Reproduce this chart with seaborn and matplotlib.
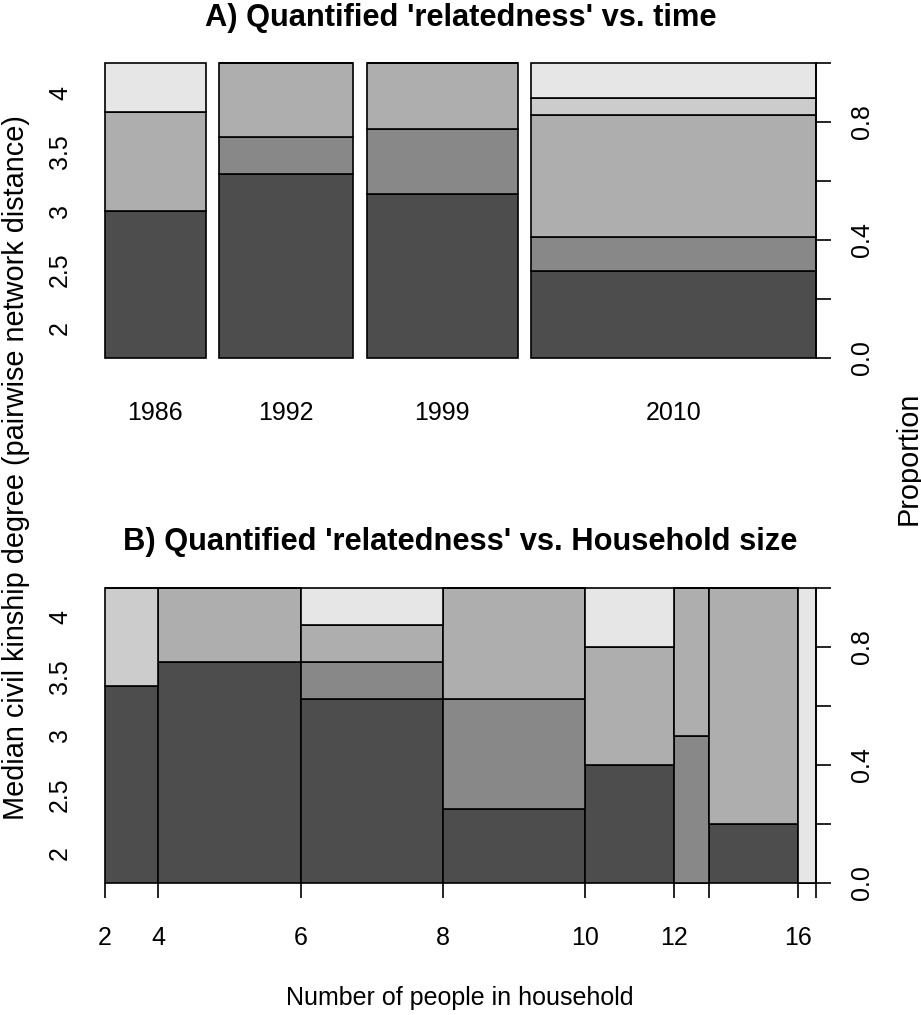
import numpy as np
import matplotlib
matplotlib.use("Agg")
import matplotlib.pyplot as plt
import seaborn as sns

# Kinship-degree levels (median pairwise network distance) and their fills
levels = ["2", "2.5", "3", "3.5", "4"]
level_colors = ["#4D4D4D", "#888888", "#AEAEAE", "#CCCCCC", "#E6E6E6"]

# Panel A: households per survey year, split by kinship level
years = ["1986", "1992", "1999", "2010"]
year_counts = {
    "2":   [3, 5, 5, 5],
    "2.5": [0, 1, 2, 2],
    "3":   [2, 2, 2, 7],
    "3.5": [0, 0, 0, 1],
    "4":   [1, 0, 0, 2],
}

# Panel B: households per household-size bin, split by kinship level
size_breaks = [2, 4, 6, 8, 10, 12, 14, 16, 18]
size_tick_labels = ["2", "4", "6", "8", "10", "12", "", "16", ""]
size_counts = {
    "2":   [2, 6, 5, 2, 2, 0, 1, 0],
    "2.5": [0, 0, 1, 3, 0, 1, 0, 0],
    "3":   [0, 2, 1, 3, 2, 1, 4, 0],
    "3.5": [1, 0, 0, 0, 0, 0, 0, 0],
    "4":   [0, 0, 1, 0, 1, 0, 0, 1],
}

proportion_ticks = [0.0, 0.2, 0.4, 0.6, 0.8, 1.0]
proportion_labels = ["0.0", "", "0.4", "", "0.8", ""]
level_label_pos = [0.1, 0.3, 0.5, 0.7, 0.9]

sns.set_theme(style="white")
plt.rcParams["font.family"] = ["Liberation Sans", "DejaVu Sans"]
plt.rcParams["text.color"] = "black"
plt.rcParams["xtick.color"] = "black"
plt.rcParams["ytick.color"] = "black"
plt.rcParams["axes.labelcolor"] = "black"

W, H = 921, 1015
DPI = 100
LW = 1.2
FS = 18
SIDE_FS = 20.8
TFS = 22.2

fig = plt.figure(figsize=(W / DPI, H / DPI), dpi=DPI)


def px_axes(left, top, right, bottom):
    return fig.add_axes([left / W, 1 - bottom / H, (right - left) / W, (bottom - top) / H])


def spineplot(ax, counts, gap):
    table = np.array([counts[lv] for lv in levels], dtype=float)
    totals = table.sum(axis=0)
    widths = totals / totals.sum()
    lefts = np.concatenate([[0.0], np.cumsum(widths + gap)[:-1]])
    props = table / totals
    bottoms = np.zeros(len(totals))
    for i, lv in enumerate(levels):
        ax.bar(lefts, props[i], width=widths, bottom=bottoms, align="edge",
               color=level_colors[i], edgecolor="black", linewidth=LW,
               clip_on=False, zorder=2)
        bottoms += props[i]
    ax.set_xlim(0, lefts[-1] + widths[-1])
    ax.set_ylim(0, 1)
    for s in ax.spines.values():
        s.set_visible(False)
    ax.set_yticks(level_label_pos)
    ax.set_yticklabels(levels, rotation=90, va="center", ha="center", fontsize=FS)
    ax.tick_params(axis="y", length=0, pad=32.4)
    ax.grid(False)

    right = ax.twinx()
    right.set_ylim(0, 1)
    for name, s in right.spines.items():
        s.set_visible(name == "right")
    right.spines["right"].set_bounds(0, 1)
    right.spines["right"].set_linewidth(LW)
    right.spines["right"].set_color("black")
    right.set_yticks(proportion_ticks)
    right.set_yticklabels(proportion_labels, rotation=90, va="center", ha="center", fontsize=FS)
    right.tick_params(axis="y", direction="out", length=10.8, width=LW, color="black", pad=22.3)
    right.grid(False)
    return lefts, widths


# Panel A: spineplot against survey year
axA = px_axes(105, 63, 816, 358)
lefts, widths = spineplot(axA, year_counts, gap=0.02)
axA.set_xticks(lefts + widths / 2)
axA.set_xticklabels(years, fontsize=FS)
axA.tick_params(axis="x", length=0, pad=31)

# Panel B: spineplot against household size bins
axB = px_axes(105, 588, 816, 883)
lefts, widths = spineplot(axB, size_counts, gap=0.0)
edges = np.concatenate([[0.0], np.cumsum(widths)])
axB.set_xticks(edges)
axB.set_xticklabels(size_tick_labels, fontsize=FS)
axB.tick_params(axis="x", bottom=True, direction="out", length=10.8, width=LW,
                color="black", pad=20)

fig.text(460.5 / W, 1 - 18 / H, "A) Quantified 'relatedness' vs. time",
         ha="center", va="center", fontsize=TFS, fontweight="bold")
fig.text(460.5 / W, 1 - 542 / H, "B) Quantified 'relatedness' vs. Household size",
         ha="center", va="center", fontsize=TFS, fontweight="bold")
fig.text(16 / W, 1 - 468 / H, "Median civil kinship degree (pairwise network distance)",
         rotation=90, ha="center", va="center", fontsize=SIDE_FS)
fig.text(909 / W, 1 - 458 / H, "Proportion", rotation=90, ha="center", va="center",
         fontsize=SIDE_FS)
fig.text(459.5 / W, 1 - 998 / H, "Number of people in household",
         ha="center", va="center", fontsize=FS)

fig.savefig("out.png", dpi=DPI)
